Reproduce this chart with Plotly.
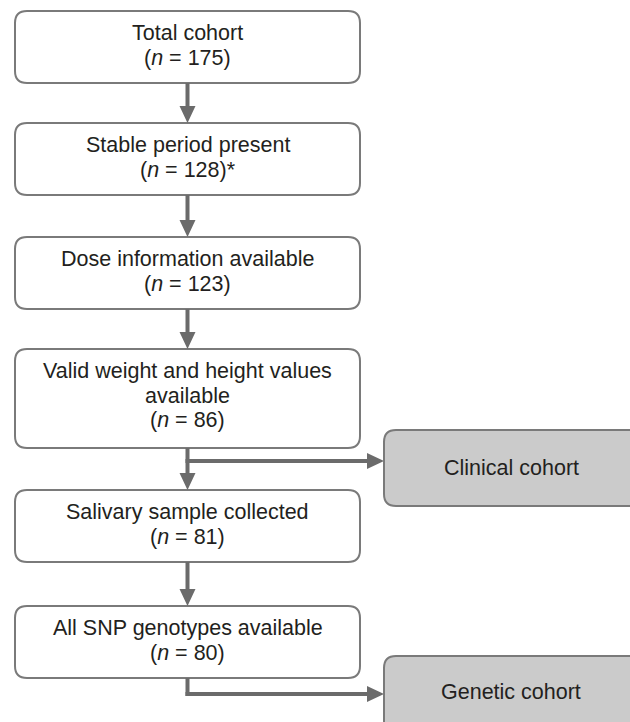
import plotly.graph_objects as go

# ---- content ----
step_labels = [
    ["Total cohort"],
    ["Stable period present"],
    ["Dose information available"],
    ["Valid weight and height values", "available"],
    ["Salivary sample collected"],
    ["All SNP genotypes available"],
]
step_n = [175, 128, 123, 86, 81, 80]
step_note = ["", "*", "", "", "", ""]
cohort_labels = ["Clinical cohort", "Genetic cohort"]

# ---- layout (pixel coordinates, y downward) ----
W, H = 630, 722
box_x0, box_x1 = 15, 360
box_tops = [11, 123, 237, 349, 490, 606]
box_bots = [83, 195, 309, 448, 562, 678]
line_gap = 24.5
first_line_offset = 22
cohort_boxes = [(384, 430, 645, 506), (384, 656, 645, 735)]
cohort_text_y = [468, 692]
cohort_text_x = 511
branch_y = [461, 694]

text_color = "#231f20"
line_color = "#6b6b6b"
border_color = "#7a7a7a"
cohort_fill = "#cbcbcb"
FONT = "Liberation Sans, Arial, sans-serif"
FS = 21.5


def rrect(x0, y0, x1, y1, r=12):
    return (f"M {x0+r},{y0} L {x1-r},{y0} Q {x1},{y0} {x1},{y0+r} "
            f"L {x1},{y1-r} Q {x1},{y1} {x1-r},{y1} L {x0+r},{y1} "
            f"Q {x0},{y1} {x0},{y1-r} L {x0},{y0+r} Q {x0},{y0} {x0+r},{y0} Z")


shapes = []
annotations = []
cx = (box_x0 + box_x1) / 2
shaft_w = 4
head_w = 16
head_l = 17


def down_arrow(x, y0, y1):
    shapes.append(dict(type="line", x0=x, x1=x, y0=y0, y1=y1 - head_l + 2,
                       line=dict(color=line_color, width=shaft_w)))
    shapes.append(dict(type="path",
                       path=f"M {x-head_w/2},{y1-head_l} L {x+head_w/2},{y1-head_l} L {x},{y1} Z",
                       fillcolor=line_color, line=dict(width=0)))


def right_arrow(x0, x1, y):
    shapes.append(dict(type="line", x0=x0 - shaft_w / 2, x1=x1 - head_l + 2, y0=y, y1=y,
                       line=dict(color=line_color, width=shaft_w)))
    shapes.append(dict(type="path",
                       path=f"M {x1-head_l},{y-head_w/2} L {x1-head_l},{y+head_w/2} L {x1},{y} Z",
                       fillcolor=line_color, line=dict(width=0)))


# main boxes
for i, (lbls, n, note) in enumerate(zip(step_labels, step_n, step_note)):
    t, b = box_tops[i], box_bots[i]
    shapes.append(dict(type="path", path=rrect(box_x0, t, box_x1, b),
                       fillcolor="white", line=dict(color=border_color, width=2)))
    lines = list(lbls) + [f"(<i>n</i> = {n}){note}"]
    for k, txt in enumerate(lines):
        annotations.append(dict(x=cx, y=t + first_line_offset + k * line_gap,
                                text=txt, showarrow=False, xanchor="center",
                                yanchor="middle",
                                font=dict(family=FONT, size=FS, color=text_color)))

# vertical arrows between boxes
for i in range(len(box_tops) - 1):
    down_arrow(cx, box_bots[i], box_tops[i + 1])

# branch to clinical cohort
right_arrow(cx, cohort_boxes[0][0], branch_y[0])
# branch to genetic cohort
shapes.append(dict(type="line", x0=cx, x1=cx, y0=box_bots[-1], y1=branch_y[1] + shaft_w / 2,
                   line=dict(color=line_color, width=shaft_w)))
right_arrow(cx, cohort_boxes[1][0], branch_y[1])

# cohort boxes
for (x0, y0, x1, y1), lbl, ty in zip(cohort_boxes, cohort_labels, cohort_text_y):
    shapes.append(dict(type="path", path=rrect(x0, y0, x1, y1),
                       fillcolor=cohort_fill, line=dict(color=border_color, width=2)))
    annotations.append(dict(x=cohort_text_x, y=ty, text=lbl, showarrow=False,
                            xanchor="center", yanchor="middle",
                            font=dict(family=FONT, size=FS, color=text_color)))

fig = go.Figure()
fig.update_layout(
    width=W, height=H,
    margin=dict(l=0, r=0, t=0, b=0),
    paper_bgcolor="white", plot_bgcolor="white",
    xaxis=dict(range=[0, W], visible=False, fixedrange=True),
    yaxis=dict(range=[H, 0], visible=False, fixedrange=True),
    shapes=shapes, annotations=annotations,
    showlegend=False,
)
fig.write_html(
    "out.html",
    config={"displayModeBar": False},
    post_script="document.body.style.margin='0';document.body.style.padding='0';"
                "document.documentElement.style.overflow='hidden';",
)
